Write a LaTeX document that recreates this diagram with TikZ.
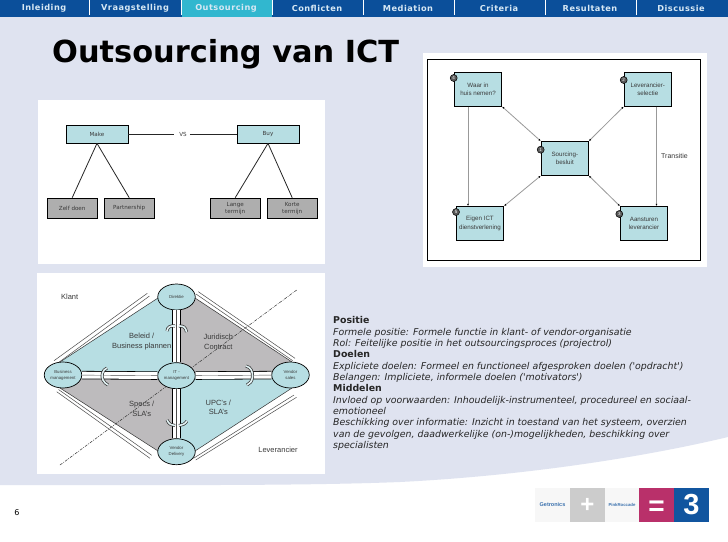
\documentclass[tikz,border=0pt]{standalone}
\usepackage{fontspec}
\setmainfont{Liberation Sans}
\newfontfamily\verd{DejaVu Sans}
\newfontfamily\tabfont[LetterSpace=6]{DejaVu Sans}
\newfontfamily\wide{DejaVu Sans}
\newcommand{\fs}[2]{\fontsize{#1}{#2}\selectfont}
\usetikzlibrary{shapes.geometric,arrows.meta,calc}
\definecolor{bgl}{HTML}{DFE3F0}
\definecolor{tabblue}{HTML}{0B4F9A}
\definecolor{tabact}{HTML}{31B7CF}
\definecolor{tealf}{HTML}{B7DEE3}
\definecolor{grayf}{HTML}{AEAEAE}
\definecolor{polyg}{HTML}{BDBBBD}
\definecolor{txt}{HTML}{3A3A3A}
\definecolor{tabtxt}{HTML}{D7E8F4}
\definecolor{conn}{HTML}{999999}
\definecolor{logomag}{HTML}{B9306A}
\definecolor{logoblue}{HTML}{11559F}
\tikzset{
  x=1pt,y=-1pt,
  tabl/.style={font=\tabfont\bfseries\fs{8.2}{10},text=tabtxt,inner sep=0},
  panel/.style={fill=white,draw=none},
  lbox/.style={draw=black,line width=.7pt,minimum width=#1,inner sep=0,align=center,text=txt,font=\wide\fs{5.6}{7.2}},
  makebox/.style={lbox=62pt,fill=tealf,minimum height=18pt},
  subbox/.style={lbox=50.5pt,fill=grayf,minimum height=20.5pt},
  rbox/.style={draw=black,line width=.8pt,fill=tealf,minimum width=47.5pt,minimum height=34pt,inner sep=0,align=center,text=txt,font=\fs{6.2}{8.2}},
  numc/.style={circle,draw=black,line width=.5pt,fill=black!65,minimum size=7pt,inner sep=0,text=white,font=\fs{4.5}{5}},
  tree/.style={draw=black!85,line width=.8pt},
  rarrow/.style={draw=conn,line width=.9pt,-{Latex[length=2.2pt,width=2pt,black]}},
  rboth/.style={draw=conn,line width=.8pt,{Latex[length=2.2pt,width=2pt,black]}-{Latex[length=2.2pt,width=2pt,black]}},
  role/.style={ellipse,draw=black,line width=.7pt,fill=tealf,minimum width=37.5pt,minimum height=26pt,inner sep=0,align=center,text=txt,font=\fs{4.3}{6}},
  lab/.style={align=center,text=txt,inner sep=0,font=\fs{7.5}{9.5}},
  bar/.style={line width=.4pt,draw=black!70,
    preaction={draw=black,line width=8.4pt},
    preaction={draw=white,line width=6.8pt}},
  twin/.style={draw=black!70,line width=.5pt},
  curlo/.style={line width=3pt,draw=black!80,line cap=butt},
  curli/.style={line width=1.6pt,draw=white!60!tealf,line cap=butt},
}
\begin{document}
\begin{tikzpicture}
\useasboundingbox (0,0) rectangle (728,541);
\fill[white] (0,0) rectangle (728,541);
% page background
\fill[bgl] (0,16) -- (728,16) -- (728,437) .. controls (640,458) and (520,476) .. (400,482) .. controls (300,486) and (150,485) .. (0,485) -- cycle;
% tabs
\fill[tabblue] (0,0) rectangle (728,17);
\fill[tabact] (181.5,0) rectangle (272,17);
\foreach \sx in {89.5,181,272.5,363.5,454.5,545.5,636.5}{\draw[white,line width=.6pt] (\sx,0) -- (\sx,15);}
\node[tabl] (t1) at (44,8.5) {Inleiding};
\node[tabl] (t2) at (135,8.5) {Vraagstelling};
\node[tabl] (t3) at (226,8.5) {Outsourcing};
\node[tabl] (t4) at (317,8.5) {Conflicten};
\node[tabl] (t5) at (408,8.5) {Mediation};
\node[tabl] (t6) at (499,8.5) {Criteria};
\node[tabl] (t7) at (590,8.5) {Resultaten};
\node[tabl] (t8) at (681,8.5) {Discussie};
% title
\node[anchor=west,inner sep=0,font=\verd\bfseries\fs{30.4}{32},text=black] (title) at (52,54.5) {Outsourcing van ICT};
% panels
\fill[panel] (37.5,100) rectangle (325,264);
\fill[panel] (423,53) rectangle (707,267);
\fill[panel] (37,273) rectangle (325,474);
% Make / Buy
\node[makebox] (make) at (97,134) {Make};
\node[makebox] (buy) at (268,134) {Buy};
\node[subbox] (zelf) at (72.2,208.3) {Zelf doen};
\node[subbox] (partner) at (129.2,208.3) {Partnership};
\node[subbox] (lange) at (235.2,208.3) {Lange\\termijn};
\node[subbox] (korte) at (292.2,208.3) {Korte\\termijn};
\node[inner sep=0,text=txt,font=\wide\fs{5.6}{7}] (vs) at (183,134) {VS};
\draw[tree] (make) -- ($(vs.west)+(-5,0)$);
\draw[tree] ($(vs.east)+(3,0)$) -- (buy);
\draw[tree] (make.south) -- (zelf.north);
\draw[tree] (make.south) -- (partner.north);
\draw[tree] (buy.south) -- (lange.north);
\draw[tree] (buy.south) -- (korte.north);
% right figure
\draw[black,line width=.9pt] (427.3,59.3) rectangle (700.5,260.3);
\node[rbox] (waar) at (478,89.2) {Waar in\\huis nemen?};
\node[rbox] (lev) at (647.8,89.2) {Leverancier-\\selectie};
\node[rbox] (src) at (564.8,158.4) {Sourcing-\\besluit};
\node[rbox] (eigen) at (480,223.4) {Eigen ICT\\dienstverlening};
\node[rbox] (aan) at (644,223.4) {Aansturen\\leverancier};
\draw[rarrow] ($(waar.south)+(-10,0)$) coordinate (w1) -- (w1 |- eigen.north);
\draw[rarrow] ($(lev.south)+(8.7,0)$) coordinate (l1) -- (l1 |- aan.north);
\draw[rboth] (waar.south east) -- (src.north west);
\draw[rboth] (lev.south west) -- (src.north east);
\draw[rboth] (eigen.north east) -- (src.south west);
\draw[rboth] (aan.north west) -- (src.south east);
\node[numc] (n4) at (453.7,78) {4};
\node[numc] (n2) at (623.7,80) {2};
\node[numc] (n1) at (540.7,149.7) {1};
\node[numc] (n5) at (456,212) {5};
\node[numc] (n3) at (619.3,214) {3};
\node[inner sep=0,text=txt,font=\fs{7}{9}] (trans) at (674.5,155.5) {Transitie};
% diamond
\fill[tealf] (60,362) -- (158,298) -- (176.5,298) -- (176.5,375) -- (63,375) -- cycle;
\fill[polyg] (195,298) -- (292,362) -- (290,375) -- (176.5,375) -- (176.5,298) -- cycle;
\fill[polyg] (60,388) -- (158,451) -- (176.5,451) -- (176.5,375) -- (63,375) -- cycle;
\fill[tealf] (195,451) -- (292,388) -- (290,375) -- (176.5,375) -- (176.5,451) -- cycle;
\draw[black!80,line width=.5pt] (60,362) -- (158,298) (195,298) -- (292,362) (60,388) -- (158,451) (195,451) -- (292,388);
\draw[twin] (54,360.7) -- (147.3,293.3) (56.5,364) -- (149.5,296);
\draw[twin] (198.3,291.7) -- (295,358.3) (196,294) -- (292.7,360.7);
\draw[twin] (56.7,391.7) -- (150,458.3) (58.5,389.5) -- (151.7,455.3);
\draw[twin] (193.5,458.3) -- (294,395) (195.7,460) -- (296.5,397.3);
\draw[black!80,line width=.5pt,dash pattern=on 3pt off 1.2pt on .8pt off 1.2pt] (60,465) -- (296.7,290);
% roles
\node[role] (dir) at (176.5,297) {Direktie};
\node[role] (biz) at (63,375) {Business\\management};
\node[role] (itm) at (176.5,375.7) {IT -\\management};
\node[role] (sales) at (290.5,375) {Vendor\\sales};
\node[role] (deliv) at (176.5,451.7) {Vendor\\Delivery};
\draw[bar] (dir) -- (itm);
\draw[bar] (itm) -- (deliv);
\draw[bar] (biz) -- (itm);
\draw[bar] (itm) -- (sales);
% curved arrows on the bars
\foreach \st in {curlo,curli}{
  \draw[\st] (167,331) .. controls (167.5,326.5) and (171,325.5) .. (175,326);
  \draw[\st] (179,326) .. controls (183,325.5) and (186,327.5) .. (186.5,332);
  \draw[\st] (167,420) .. controls (169,424.5) and (172,425.5) .. (175,425.5);
  \draw[\st] (179,425.5) .. controls (182,425.5) and (185,424) .. (187,421);
  \draw[\st] (107,368) .. controls (102,370) and (101,376) .. (103,380) .. controls (104,382) and (106,384) .. (108,385);
  \draw[\st] (246,366) .. controls (251,367) and (253,372) .. (252.5,377) .. controls (252,381) and (250,384) .. (247,385);
}
% diamond labels
\node[lab] (l1a) at (141.7,341.5) {Beleid /\\Business plannen};
\node[lab] (l2a) at (218.3,342) {Juridisch\\Contract};
\node[lab] (l3a) at (141.7,409) {Specs /\\SLA's};
\node[lab] (l4a) at (218.3,407.5) {UPC's /\\SLA's};
\node[lab] (klant) at (69.7,296.5) {Klant};
\node[lab] (lever) at (278,449.5) {Leverancier};
% text
\node[anchor=north west,inner sep=0,align=left,text=black!85,font=\verd\fs{9.4}{11.35}] (body) at (333,316.5) {%
{\bfseries Positie}\\
\itshape Formele positie: Formele functie in klant- of vendor-organisatie\\
\itshape Rol: Feitelijke positie in het outsourcingsproces (projectrol)\\
{\bfseries Doelen}\\
\itshape Expliciete doelen: Formeel en functioneel afgesproken doelen ('opdracht')\\
\itshape Belangen: Impliciete, informele doelen ('motivators')\\
{\bfseries Middelen}\\
\itshape Invloed op voorwaarden: Inhoudelijk-instrumenteel, procedureel en sociaal-\\
\itshape emotioneel\\
\itshape Beschikking over informatie: Inzicht in toestand van het systeem, overzien\\
\itshape van de gevolgen, daadwerkelijke (on-)mogelijkheden, beschikking over\\
\itshape specialisten};
% page number
\node[inner sep=0,font=\verd\fs{8}{10},text=black] (pnum) at (17,513) {6};
% logos
\fill[black!3] (535,488) rectangle (570,522);
\fill[black!20] (570,488) rectangle (605,522);
\fill[black!3] (605,488) rectangle (639,522);
\fill[logomag] (639,488) rectangle (674,522);
\fill[logoblue] (674,488) rectangle (709,522);
\node[inner sep=0,font=\bfseries\fs{5.5}{6},text=tabblue!80] (getr) at (552.5,505) {Getronics};
\node[inner sep=0,font=\bfseries\fs{24}{26},text=white] (plus) at (587.5,505) {+};
\node[inner sep=0,font=\bfseries\fs{4.3}{5},text=tabblue!80] (pinkr) at (622,505) {PinkRoccade};
\node[inner sep=0,font=\bfseries\fs{28}{30},text=white] (eq) at (656.5,508) {=};
\node[inner sep=0,font=\bfseries\fs{29}{30},text=white] (three) at (691.5,505) {3};
\end{tikzpicture}
\end{document}
